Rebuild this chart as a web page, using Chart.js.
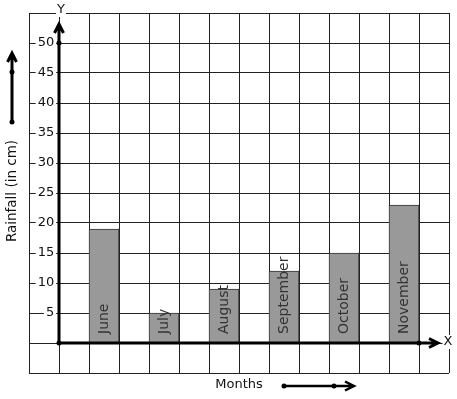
<!DOCTYPE html>
<html>
<head>
<meta charset="utf-8">
<script src="https://cdn.jsdelivr.net/npm/chart.js@4/dist/chart.umd.min.js"></script>
<style>
  html, body { margin: 0; padding: 0; background: #fff; }
  #wrap { width: 457px; height: 399px; }
</style>
</head>
<body>
<div id="wrap"><canvas id="rainChart" width="457" height="399"></canvas></div>
<script>
// Dados do gráfico
const months = ['June', 'July', 'August', 'September', 'October', 'November'];
const rainfall = [19, 5, 9, 12, 15, 23];
const yTickLabels = [5, 10, 15, 20, 25, 30, 35, 40, 45, 50];

const FONT = '"DejaVu Sans", sans-serif';

// cada mês ocupa uma coluna, com uma coluna vazia entre eles
const barPoints = months.map((m, i) => ({ x: 1.5 + 2 * i, y: rainfall[i] }));

function dot(ctx, x, y) {
    ctx.beginPath();
    ctx.arc(x, y, 2.5, 0, Math.PI * 2);
    ctx.fill();
}

function arrowUp(ctx, x, yFrom, yTo) {
    ctx.beginPath();
    ctx.moveTo(x, yFrom);
    ctx.lineTo(x, yTo);
    ctx.moveTo(x - 4.5, yTo + 9);
    ctx.lineTo(x, yTo);
    ctx.lineTo(x + 4.5, yTo + 9);
    ctx.stroke();
}

function arrowRight(ctx, y, xFrom, xTo) {
    ctx.beginPath();
    ctx.moveTo(xFrom, y);
    ctx.lineTo(xTo, y);
    ctx.moveTo(xTo - 9, y - 4.5);
    ctx.lineTo(xTo, y);
    ctx.lineTo(xTo - 9, y + 4.5);
    ctx.stroke();
}

function labelWithBg(ctx, text, x, y) {
    const w = ctx.measureText(text).width;
    ctx.fillStyle = '#fff';
    ctx.fillRect(x - w / 2 - 1, y - 7, w + 2, 14);
    ctx.fillStyle = '#111';
    ctx.fillText(text, x, y);
}

const axesPlugin = {
    id: 'axesPlugin',
    afterDatasetsDraw(chart) {
        const ctx = chart.ctx;
        const xs = chart.scales.x;
        const ys = chart.scales.y;
        const area = chart.chartArea;
        const x0 = xs.getPixelForValue(0);
        const y0 = ys.getPixelForValue(0);

        ctx.save();
        // rótulos dos meses dentro das barras
        const meta = chart.getDatasetMeta(0);
        ctx.font = '14px ' + FONT;
        ctx.fillStyle = '#333';
        ctx.textAlign = 'left';
        ctx.textBaseline = 'middle';
        meta.data.forEach((bar, i) => {
            ctx.save();
            ctx.translate(bar.x, y0 - 9);
            ctx.rotate(-Math.PI / 2);
            ctx.fillText(months[i], 0, 0);
            ctx.restore();
        });

        // eixos com setas
        ctx.strokeStyle = '#000';
        ctx.fillStyle = '#000';
        ctx.lineWidth = 3;
        ctx.lineCap = 'butt';
        arrowUp(ctx, x0, y0, area.top + 11);
        arrowRight(ctx, y0, x0, area.right - 11);
        dot(ctx, x0, ys.getPixelForValue(50));
        dot(ctx, x0, y0);
        dot(ctx, xs.getPixelForValue(12), y0);

        ctx.font = '13px ' + FONT;
        ctx.textAlign = 'center';
        ctx.textBaseline = 'middle';
        labelWithBg(ctx, 'Y', x0 + 2, area.top - 3);
        labelWithBg(ctx, 'X', area.right - 1, y0 - 1);

        // títulos dos eixos
        ctx.fillStyle = '#111';
        ctx.font = '13.5px ' + FONT;
        ctx.save();
        ctx.translate(12, 191);
        ctx.rotate(-Math.PI / 2);
        ctx.fillText('Rainfall (in cm)', 0, 0);
        ctx.restore();
        ctx.font = '13px ' + FONT;
        ctx.fillText('Months', 239, 385);

        ctx.lineWidth = 3;
        ctx.fillStyle = '#000';
        arrowUp(ctx, 12, 122, 53);
        dot(ctx, 12, 122);
        dot(ctx, 12, 72);
        ctx.lineWidth = 2.5;
        arrowRight(ctx, 386, 284, 354);
        dot(ctx, 284, 386);
        dot(ctx, 334, 386);
        ctx.restore();
    }
};

document.addEventListener('DOMContentLoaded', function() {
    const canvas = document.getElementById('rainChart');
    new Chart(canvas.getContext('2d'), {
        type: 'bar',
        data: {
            datasets: [{
                label: 'Rainfall',
                data: barPoints,
                backgroundColor: '#999999',
                borderColor: '#333333',
                borderWidth: 1,
                categoryPercentage: 1,
                barPercentage: 1
            }]
        },
        options: {
            responsive: false,
            animation: false,
            layout: { padding: { left: 29, top: 13, right: 8, bottom: 26 } },
            plugins: {
                legend: { display: false },
                tooltip: { enabled: false }
            },
            scales: {
                x: {
                    type: 'linear',
                    offset: false,
                    min: -1,
                    max: 13,
                    afterFit(scale) { scale.height = 0; },
                    ticks: { stepSize: 1, display: false },
                    grid: { color: '#222', lineWidth: 1, drawTicks: false, offset: false },
                    border: { display: false }
                },
                y: {
                    type: 'linear',
                    // rótulos encostados um pouco à esquerda do eixo Y
                    position: { x: -0.16 },
                    min: -5,
                    max: 55,
                    afterFit(scale) { scale.width = 0; },
                    ticks: {
                        stepSize: 5,
                        padding: 5,
                        color: '#111',
                        font: { family: FONT, size: 13 },
                        showLabelBackdrop: true,
                        backdropPadding: { x: 2, y: 0 },
                        backdropColor: (c) => yTickLabels.includes(c.tick.value) ? '#fff' : 'rgba(0,0,0,0)',
                        callback: (v) => yTickLabels.includes(v) ? String(v) : ''
                    },
                    grid: { color: '#222', lineWidth: 1, drawTicks: false },
                    border: { display: false }
                }
            }
        },
        plugins: [axesPlugin]
    });
});
</script>
</body>
</html>
